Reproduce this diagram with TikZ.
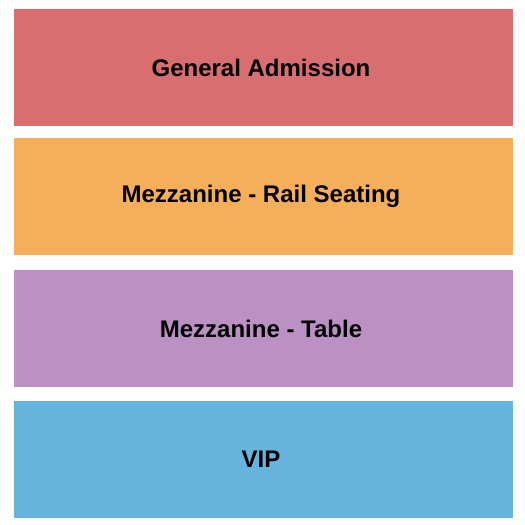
\documentclass[tikz,border=0pt]{standalone}
\usepackage{fontspec}
\setmainfont{Liberation Sans}
\definecolor{cga}{HTML}{D86E70}
\definecolor{crail}{HTML}{F5AE5A}
\definecolor{ctable}{HTML}{BB91C4}
\definecolor{cvip}{HTML}{66B4DD}
\begin{document}
\begin{tikzpicture}[x=1pt,y=-1pt,
  section/.style={draw=none,minimum width=499pt,minimum height=117pt,inner sep=0pt,
    font=\fontsize{24}{28}\selectfont\bfseries,text=black,
    execute at end node={\kern5pt}}]
\useasboundingbox[fill=white] (0,0) rectangle (525,525);
\node[section,fill=cga] (ga) at (263.5,67.5) {General Admission};
\node[section,fill=crail] (rail) at (263.5,196.5) {Mezzanine - Rail Seating};
\node[section,fill=ctable] (table) at (263.5,328.5) {Mezzanine - Table};
\node[section,fill=cvip] (vip) at (263.5,459.5) {VIP};
\end{tikzpicture}
\end{document}
